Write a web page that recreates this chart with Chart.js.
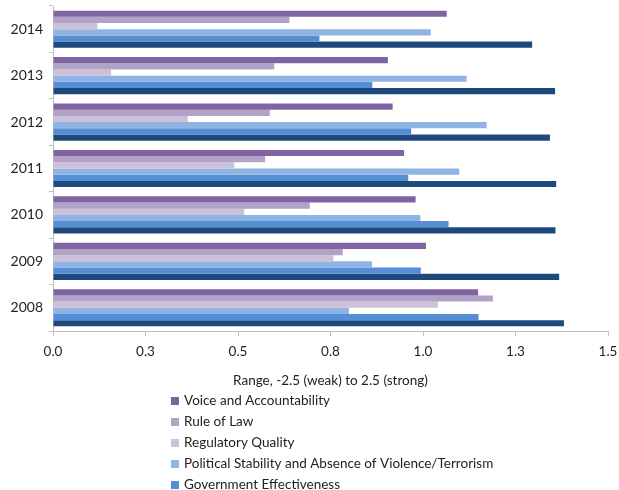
<!DOCTYPE html>
<html>
<head>
<meta charset="utf-8">
<script src="https://cdn.jsdelivr.net/npm/chart.js@4/dist/chart.umd.min.js"></script>
<style>
  html, body { margin: 0; padding: 0; background: #fff; overflow: hidden; }
  #wrap { width: 619px; height: 490px; }
</style>
</head>
<body>
<div id="wrap"><canvas id="c" width="619" height="490"></canvas></div>
<script>
// Years, top to bottom
const years = ['2014', '2013', '2012', '2011', '2010', '2009', '2008'];

// Governance indicator scores per year (same order as years)
const voiceAccountability = [1.064, 0.905, 0.918, 0.949, 0.980, 1.008, 1.149];
const ruleOfLaw           = [0.639, 0.598, 0.586, 0.573, 0.694, 0.783, 1.189];
const regulatoryQuality   = [0.120, 0.157, 0.364, 0.490, 0.517, 0.758, 1.040];
const politicalStability  = [1.021, 1.118, 1.172, 1.098, 0.993, 0.862, 0.800];
const govEffectiveness    = [0.720, 0.863, 0.968, 0.960, 1.069, 0.994, 1.150];
const controlCorruption   = [1.295, 1.357, 1.343, 1.360, 1.358, 1.368, 1.381];

const xTicks = [0, 0.25, 0.5, 0.75, 1.0, 1.25, 1.5];

const FONT = 'Lato, "Open Sans", sans-serif';

const series = [
  { label: 'Voice and Accountability', data: voiceAccountability, color: '#8064a2' },
  { label: 'Rule of Law', data: ruleOfLaw, color: '#b3a2c7' },
  { label: 'Regulatory Quality', data: regulatoryQuality, color: '#ccc1da' },
  { label: 'Political Stability and Absence of Violence/Terrorism', data: politicalStability, color: '#8eb4e3' },
  { label: 'Government Effectiveness', data: govEffectiveness, color: '#558ed5' },
  { label: 'Control of Corruption', data: controlCorruption, color: '#1f497d' }
];

// Vertical list legend under the axis title
const columnLegend = {
  id: 'columnLegend',
  afterDraw(chart) {
    const ctx = chart.ctx;
    ctx.save();
    ctx.font = '13.5px ' + FONT;
    ctx.textBaseline = 'middle';
    ctx.textAlign = 'left';
    chart.data.datasets.forEach((ds, i) => {
      const y = 401 + i * 21;
      ctx.fillStyle = ds.backgroundColor;
      ctx.fillRect(171, y - 4, 8, 8);
      ctx.fillStyle = '#222';
      ctx.fillText(ds.label, 184, y);
    });
    ctx.restore();
  }
};

new Chart(document.getElementById('c'), {
  type: 'bar',
  data: {
    labels: years,
    datasets: series.map(s => ({
      label: s.label,
      data: s.data,
      backgroundColor: s.color,
      borderWidth: 0,
      barPercentage: 1.0,
      categoryPercentage: 0.8
    }))
  },
  options: {
    indexAxis: 'y',
    responsive: false,
    animation: false,
    layout: { padding: { left: 5, right: 11, top: 6, bottom: 99 } },
    plugins: {
      legend: { display: false },
      tooltip: { enabled: false }
    },
    scales: {
      y: {
        afterFit(scale) { scale.width = 48; scale.paddingTop = 0; scale.paddingBottom = 0; },
        grid: { display: true, drawOnChartArea: false, tickLength: 4, color: '#bfbfbf', offset: true },
        border: { color: '#bfbfbf' },
        ticks: { color: '#222', font: { family: FONT, size: 14 }, padding: 6 }
      },
      x: {
        min: 0,
        max: 1.5,
        afterFit(scale) { scale.height = 60; scale.paddingLeft = 0; scale.paddingRight = 0; },
        afterBuildTicks(scale) { scale.ticks = xTicks.map(v => ({ value: v })); },
        grid: { display: true, drawOnChartArea: false, tickLength: 5, color: '#bfbfbf' },
        border: { color: '#bfbfbf' },
        ticks: {
          color: '#222',
          font: { family: FONT, size: 13.5 },
          padding: 8,
          callback: v => Number(v).toFixed(1)
        },
        title: {
          display: true,
          text: 'Range, -2.5 (weak) to 2.5 (strong)',
          color: '#222',
          font: { family: FONT, size: 13.5 },
          padding: { top: 0, bottom: 2 }
        }
      }
    }
  },
  plugins: [columnLegend]
});
</script>
</body>
</html>
